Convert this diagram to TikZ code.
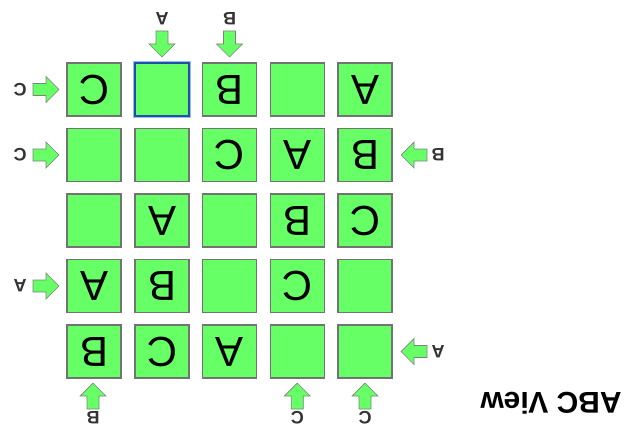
\documentclass[tikz,border=0pt]{standalone}
\usepackage{fontspec}
\setmainfont{Liberation Sans}
\definecolor{cellgreen}{RGB}{102,255,102}
\definecolor{cellborder}{RGB}{115,115,115}
\definecolor{selblue}{RGB}{30,80,170}
\definecolor{glowblue}{RGB}{150,190,240}
\begin{document}
\begin{tikzpicture}[x=1pt,y=-1pt,
  cell/.style={draw=cellborder, line width=1.3pt, fill=cellgreen, minimum width=54pt, minimum height=53pt, inner sep=0pt, font=\fontsize{42}{42}\selectfont, rotate=180},
  selcell/.style={cell, draw=selblue, line width=1.5pt},
  clue/.style={font=\bfseries\fontsize{18}{18}\selectfont, text=black!80, rotate=180, inner sep=0pt},
  title/.style={font=\bfseries\fontsize{30}{30}\selectfont, rotate=180, inner sep=0pt},
  pics/blockarrow/.style={code={\draw[draw=black!50, line width=0.7pt, fill=cellgreen, line join=miter] (0,-6)--(13,-6)--(13,-13)--(26,0)--(13,13)--(13,6)--(0,6)--cycle;}}
]
\useasboundingbox (0,0) rectangle (634,428);
% row 1
\node[cell] (r1c1) at (94,89.5) {C};
\draw[glowblue, line width=3.5pt] (135,63) rectangle (189,116);
\node[selcell] (r1c2) at (162,89.5) {};
\node[cell] (r1c3) at (229.5,89.5) {B};
\node[cell] (r1c4) at (297.25,89.5) {};
\node[cell] (r1c5) at (365,89.5) {A};
% row 2
\node[cell] (r2c1) at (94,155) {};
\node[cell] (r2c2) at (162,155) {};
\node[cell] (r2c3) at (229.5,155) {C};
\node[cell] (r2c4) at (297.25,155) {A};
\node[cell] (r2c5) at (365,155) {B};
% row 3
\node[cell] (r3c1) at (94,220.5) {};
\node[cell] (r3c2) at (162,220.5) {A};
\node[cell] (r3c3) at (229.5,220.5) {};
\node[cell] (r3c4) at (297.25,220.5) {B};
\node[cell] (r3c5) at (365,220.5) {C};
% row 4
\node[cell] (r4c1) at (94,286) {A};
\node[cell] (r4c2) at (162,286) {B};
\node[cell] (r4c3) at (229.5,286) {};
\node[cell] (r4c4) at (297.25,286) {C};
\node[cell] (r4c5) at (365,286) {};
% row 5
\node[cell] (r5c1) at (94,351.5) {B};
\node[cell] (r5c2) at (162,351.5) {C};
\node[cell] (r5c3) at (229.5,351.5) {A};
\node[cell] (r5c4) at (297.25,351.5) {};
\node[cell] (r5c5) at (365,351.5) {};
% top clues
\pic[rotate=-90] (at2) at (162,31) {blockarrow};
\node[clue] (t2) at (162,19) {A};
\pic[rotate=-90] (at3) at (229.5,31) {blockarrow};
\node[clue] (t3) at (229.5,19) {B};
% left clues
\pic (al1) at (33,89.5) {blockarrow};
\node[clue] (l1) at (20,89.5) {C};
\pic (al2) at (33,155) {blockarrow};
\node[clue] (l2) at (20,155) {C};
\pic (al4) at (33,286) {blockarrow};
\node[clue] (l4) at (20,286) {A};
% right clues
\pic[rotate=180] (ar2) at (427,155) {blockarrow};
\node[clue] (rr2) at (438,155) {B};
\pic[rotate=180] (ar5) at (427,351.5) {blockarrow};
\node[clue] (rr5) at (438,351.5) {A};
% bottom clues
\pic[rotate=90] (ab1) at (93,409) {blockarrow};
\node[clue] (b1) at (93,418) {B};
\pic[rotate=90] (ab4) at (297.25,409) {blockarrow};
\node[clue] (b4) at (297.25,418) {C};
\pic[rotate=90] (ab5) at (365,409) {blockarrow};
\node[clue] (b5) at (365,418) {C};
% title
\node[title] (ttl) at (551,403) {ABC View};
\end{tikzpicture}
\end{document}
